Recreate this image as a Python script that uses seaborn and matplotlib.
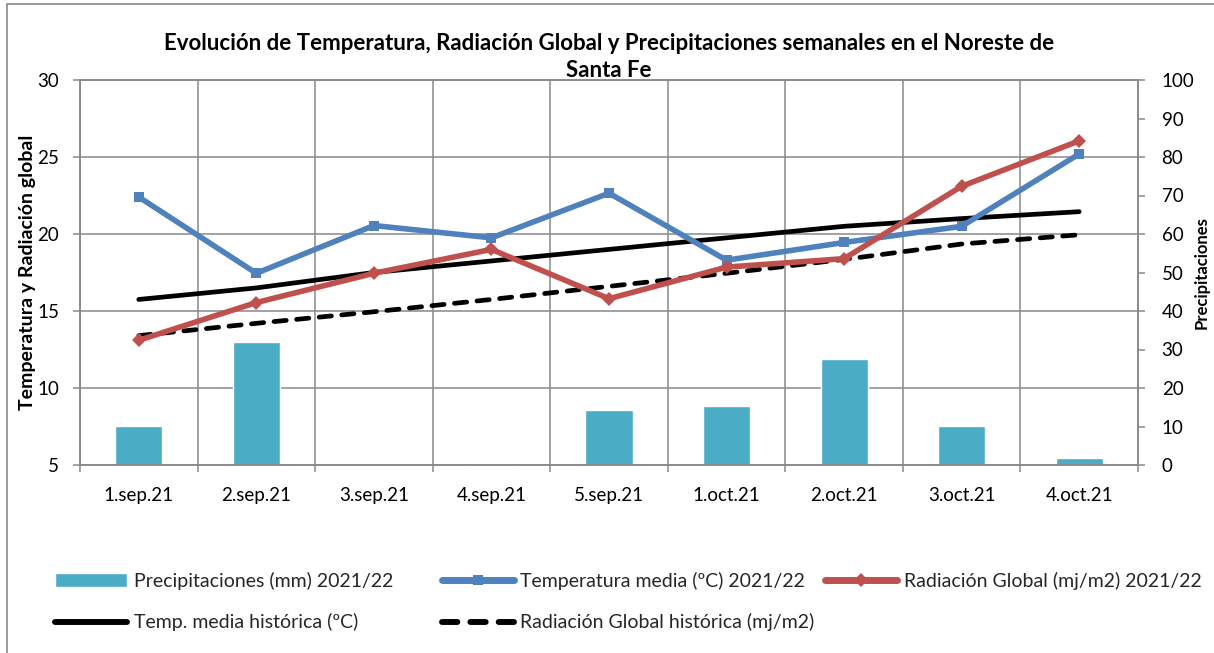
import numpy as np
import pandas as pd
import matplotlib
matplotlib.use("Agg")
import matplotlib.pyplot as plt
import seaborn as sns
from matplotlib.patches import Rectangle

# ---- data ----
semanas = ["1.sep.21", "2.sep.21", "3.sep.21", "4.sep.21", "5.sep.21",
           "1.oct.21", "2.oct.21", "3.oct.21", "4.oct.21"]
precipitaciones = [10.2, 31.9, 0.0, 0.5, 14.2, 15.2, 27.5, 10.2, 1.9]
temp_media = [22.4, 17.45, 20.55, 19.75, 22.65, 18.3, 19.45, 20.5, 25.2]
radiacion = [13.1, 15.55, 17.45, 19.0, 15.8, 17.85, 18.4, 23.1, 26.05]
temp_hist = [15.75, 16.5, 17.5, 18.25, 19.0, 19.75, 20.5, 21.0, 21.45]
rad_hist = [13.4, 14.2, 14.95, 15.75, 16.6, 17.45, 18.35, 19.35, 19.95]

lbl_p = "Precipitaciones (mm) 2021/22"
lbl_t = "Temperatura media (ºC) 2021/22"
lbl_r = "Radiación Global (mj/m2) 2021/22"
lbl_th = "Temp. media histórica (ºC)"
lbl_rh = "Radiación Global histórica (mj/m2)"
titulo = ("Evolución de Temperatura, Radiación Global y Precipitaciones semanales en el Noreste de\n"
          "Santa Fe")

sns.set_theme(style="white")
plt.rcParams["font.family"] = ["Lato", "DejaVu Sans"]

W, H = 1214, 653
fig = plt.figure(figsize=(W / 100, H / 100), dpi=100)
fig.patch.set_facecolor("white")

GRID = "#898989"
TXT = "#000000"
TICK_FS = 13.5

L, R, T, B = 80, 1138, 80, 465
ax_bar = fig.add_axes([L / W, 1 - B / H, (R - L) / W, (B - T) / H])
ax = ax_bar.twinx()

df_bar = pd.DataFrame({"semana": semanas, "mm": precipitaciones})
sns.barplot(data=df_bar, x="semana", y="mm", color="#4BACC6", saturation=1,
            width=0.4, ax=ax_bar, label=lbl_p, zorder=2)
ax_bar.set_xlim(-0.5, len(semanas) - 0.5)
ax_bar.set_ylim(0, 100)
ax_bar.yaxis.tick_right()
ax_bar.yaxis.set_label_position("right")
ax_bar.set_yticks(np.arange(0, 101, 10))
ax_bar.set_ylabel("Precipitaciones", fontsize=12, fontweight="bold", color=TXT)
ax_bar.yaxis.set_label_coords((1194 - L) / (R - L), 0.5)
ax_bar.set_xlabel("")

# gridlines
ax_bar.grid(False)
for y in range(0, 101, 20):
    ax_bar.axhline(y, color=GRID, lw=1.1, zorder=0)
ax_bar.set_xticks(np.arange(-0.5, len(semanas), 1.0), minor=True)
for x in np.arange(-0.5, len(semanas), 1.0):
    ax_bar.axvline(x, color=GRID, lw=1.1, zorder=0)

ax_bar.tick_params(axis="x", which="major", length=0, pad=16, labelsize=TICK_FS, labelcolor=TXT)
ax_bar.tick_params(axis="x", which="minor", length=5, width=1.1, color=GRID, direction="out", bottom=True)
ax_bar.tick_params(axis="y", which="major", length=5, width=1.1, color=GRID, direction="out",
                   right=True, left=False, labelright=True, labelleft=False,
                   labelsize=TICK_FS, pad=12, labelcolor=TXT)
for s in ax_bar.spines.values():
    s.set_color(GRID)
    s.set_linewidth(1.1)

# lines on twin axis, with y axis on the left
ax.yaxis.tick_left()
ax.yaxis.set_label_position("left")
df_line = pd.DataFrame({"semana": semanas, "t": temp_media, "r": radiacion,
                        "th": temp_hist, "rh": rad_hist})
sns.lineplot(data=df_line, x="semana", y="th", sort=False, color="black", lw=3.4,
             solid_capstyle="round", ax=ax, label=lbl_th, zorder=3)
sns.lineplot(data=df_line, x="semana", y="rh", sort=False, color="black", lw=3.4,
             ax=ax, label=lbl_rh, zorder=3)
ax.lines[-1].set_dashes([2.6, 2.2])
ax.lines[-1].set_dash_capstyle("round")
sns.lineplot(data=df_line, x="semana", y="t", sort=False, color="#4F81BD", lw=4.0,
             marker="s", markersize=6.5, markeredgewidth=0, ax=ax, label=lbl_t, zorder=4)
sns.lineplot(data=df_line, x="semana", y="r", sort=False, color="#C0504D", lw=4.0,
             marker="D", markersize=7.5, markeredgewidth=0, ax=ax, label=lbl_r, zorder=5)
ax.set_ylim(5, 30)
ax.set_yticks(np.arange(5, 31, 5))
ax.set_xlim(-0.5, len(semanas) - 0.5)
ax.set_ylabel("Temperatura y Radiación global", fontsize=14, fontweight="bold", color=TXT)
ax.yaxis.set_label_coords((36 - L) / (R - L), 0.5)
ax.set_xlabel("")
ax.tick_params(axis="y", which="major", length=5, width=1.1, color=GRID, direction="out",
               left=True, right=False, labelleft=True, labelright=False,
               labelsize=TICK_FS, pad=10, labelcolor=TXT)
ax.grid(False)
for s in ax.spines.values():
    s.set_color(GRID)
    s.set_linewidth(1.1)

ttl = ax.set_title(titulo, fontsize=16, fontweight="bold", linespacing=1.35, color=TXT,
                   y=1.0, pad=0)
ttl.set_position((0.5, 1 + 3 / (B - T)))

# legend
hb, lb = ax_bar.get_legend_handles_labels()
hl, ll = ax.get_legend_handles_labels()
hmap = dict(zip(lb + ll, hb + hl))
for a in (ax, ax_bar):
    if a.get_legend():
        a.get_legend().remove()
leg_kw = dict(loc="upper left", frameon=False, fontsize=14, handlelength=3.7,
              handletextpad=0.35, labelspacing=1.2, borderpad=0, borderaxespad=0)
order = [lbl_p, lbl_th, lbl_t, lbl_rh]
leg1 = fig.legend([hmap[k] for k in order], order, ncol=2,
                  bbox_to_anchor=(55 / W, 1 - 572 / H), columnspacing=2.5, **leg_kw)
leg2 = fig.legend([hmap[lbl_r]], [lbl_r], ncol=1,
                  bbox_to_anchor=(825 / W, 1 - 572 / H), **leg_kw)
for lg in (leg1, leg2):
    for h in lg.legend_handles:
        if hasattr(h, "set_linewidth") and not hasattr(h, "get_height"):
            h.set_linewidth(h.get_linewidth() * 1.25)

# chart border
fig.patches.append(Rectangle((7 / W, -0.05), 1.2, 1 - 4 / H + 0.05,
                             transform=fig.transFigure, fill=False,
                             edgecolor="#8a8a8a", lw=1.2, zorder=0))

fig.savefig("out.png", dpi=100, facecolor="white")
